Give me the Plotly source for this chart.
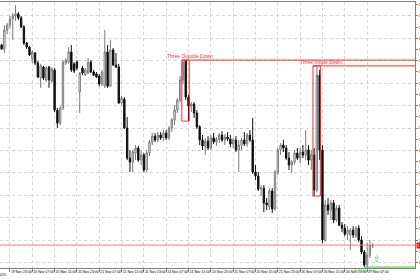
import plotly.graph_objects as go

# ---------------- data (H1 candles, bar index 0 = 19 Nov 20:00) ----------------
bar_index = list(range(134))

open_ = [
    1.41170, 1.41152, 1.41237, 1.41259, 1.41286, 1.41300, 1.41309, 1.41291, 1.41251, 1.41179,
    1.41161, 1.41110, 1.41135, 1.41090, 1.41023, 1.41072, 1.41014, 1.41072, 1.41010, 1.41059,
    1.40880, 1.40822, 1.40889, 1.41090, 1.41094, 1.41139, 1.41086, 1.41094, 1.40961, 1.41068,
    1.41036, 1.41045, 1.41094, 1.41050, 1.41041, 1.41032, 1.40996, 1.40987, 1.41139, 1.40987,
    1.41148, 1.41081, 1.41072, 1.40912, 1.40929, 1.40800, 1.40666, 1.40648, 1.40689, 1.40711,
    1.40657, 1.40680, 1.40613, 1.40689, 1.40738, 1.40764, 1.40747, 1.40769, 1.40756, 1.40778,
    1.40756, 1.40800, 1.40836, 1.40880, 1.40925, 1.41014, 1.41099, 1.40938, 1.40898, 1.40907,
    1.40867, 1.40805, 1.40747, 1.40720, 1.40742, 1.40711, 1.40756, 1.40738, 1.40751, 1.40769,
    1.40747, 1.40760, 1.40751, 1.40729, 1.40747, 1.40702, 1.40724, 1.40747, 1.40729, 1.40769,
    1.40747, 1.40604, 1.40586, 1.40528, 1.40532, 1.40466, 1.40448, 1.40519, 1.40439, 1.40604,
    1.40702, 1.40724, 1.40711, 1.40666, 1.40635, 1.40648, 1.40689, 1.40666, 1.40693, 1.40680,
    1.40702, 1.40657, 1.40680, 1.40524, 1.41036, 1.40702, 1.40301, 1.40457, 1.40434, 1.40466,
    1.40390, 1.40443, 1.40367, 1.40354, 1.40327, 1.40323, 1.40345, 1.40318, 1.40354, 1.40301,
    1.40247, 1.40189, 1.40234, 1.40274,
]
high = [
    1.41175, 1.41259, 1.41268, 1.41300, 1.41313, 1.41349, 1.41317, 1.41300, 1.41259, 1.41184,
    1.41166, 1.41148, 1.41139, 1.41099, 1.41086, 1.41077, 1.41077, 1.41077, 1.41072, 1.41068,
    1.40889, 1.40898, 1.41103, 1.41112, 1.41161, 1.41170, 1.41094, 1.41103, 1.41050, 1.41077,
    1.41068, 1.41112, 1.41103, 1.41059, 1.41050, 1.41041, 1.41059, 1.41237, 1.41170, 1.41193,
    1.41157, 1.41135, 1.41086, 1.40943, 1.40938, 1.40849, 1.40702, 1.40702, 1.40724, 1.40720,
    1.40702, 1.40689, 1.40702, 1.40747, 1.40778, 1.40778, 1.40782, 1.40782, 1.40791, 1.40791,
    1.40809, 1.40845, 1.40903, 1.40934, 1.41032, 1.41103, 1.41103, 1.40947, 1.40916, 1.40916,
    1.40880, 1.40813, 1.40769, 1.40756, 1.40764, 1.40769, 1.40778, 1.40760, 1.40778, 1.40787,
    1.40773, 1.40782, 1.40769, 1.40756, 1.40764, 1.40747, 1.40756, 1.40782, 1.40778, 1.40791,
    1.40845, 1.40635, 1.40604, 1.40546, 1.40546, 1.40488, 1.40532, 1.40532, 1.40613, 1.40711,
    1.40733, 1.40747, 1.40724, 1.40693, 1.40657, 1.40702, 1.40711, 1.40711, 1.40724, 1.40791,
    1.40724, 1.40702, 1.40711, 1.41077, 1.41059, 1.40724, 1.40479, 1.40488, 1.40479, 1.40479,
    1.40457, 1.40457, 1.40381, 1.40372, 1.40363, 1.40354, 1.40363, 1.40363, 1.40367, 1.40318,
    1.40256, 1.40287, 1.40301, 1.40287,
]
low = [
    1.41148, 1.41135, 1.41219, 1.41246, 1.41193, 1.41277, 1.41282, 1.41246, 1.41170, 1.41152,
    1.41121, 1.41090, 1.41081, 1.41023, 1.40979, 1.41014, 1.41005, 1.40979, 1.41001, 1.40871,
    1.40800, 1.40813, 1.40880, 1.41081, 1.41086, 1.41050, 1.41045, 1.41059, 1.40867, 1.41036,
    1.41032, 1.41041, 1.41045, 1.41032, 1.41023, 1.40987, 1.40987, 1.40979, 1.40979, 1.40983,
    1.41077, 1.41068, 1.40907, 1.40903, 1.40796, 1.40657, 1.40604, 1.40604, 1.40657, 1.40648,
    1.40635, 1.40604, 1.40604, 1.40675, 1.40724, 1.40738, 1.40738, 1.40747, 1.40742, 1.40747,
    1.40747, 1.40782, 1.40813, 1.40867, 1.40916, 1.40996, 1.40925, 1.40831, 1.40871, 1.40845,
    1.40796, 1.40724, 1.40702, 1.40680, 1.40702, 1.40702, 1.40729, 1.40720, 1.40733, 1.40738,
    1.40724, 1.40742, 1.40715, 1.40711, 1.40693, 1.40604, 1.40702, 1.40720, 1.40715, 1.40738,
    1.40595, 1.40568, 1.40519, 1.40497, 1.40425, 1.40434, 1.40434, 1.40421, 1.40430, 1.40590,
    1.40680, 1.40693, 1.40657, 1.40613, 1.40599, 1.40635, 1.40657, 1.40644, 1.40666, 1.40657,
    1.40635, 1.40613, 1.40497, 1.40515, 1.40657, 1.40287, 1.40292, 1.40412, 1.40390, 1.40376,
    1.40381, 1.40363, 1.40336, 1.40318, 1.40301, 1.40256, 1.40310, 1.40310, 1.40292, 1.40238,
    1.40180, 1.40180, 1.40220, 1.40265,
]
close = [
    1.41152, 1.41237, 1.41259, 1.41286, 1.41300, 1.41309, 1.41291, 1.41251, 1.41179, 1.41161,
    1.41126, 1.41139, 1.41090, 1.41028, 1.41077, 1.41023, 1.41068, 1.41014, 1.41063, 1.40880,
    1.40822, 1.40889, 1.41094, 1.41103, 1.41139, 1.41059, 1.41054, 1.41068, 1.41045, 1.41045,
    1.41059, 1.41094, 1.41050, 1.41036, 1.41028, 1.40996, 1.41050, 1.41139, 1.40987, 1.41148,
    1.41081, 1.41072, 1.40912, 1.40934, 1.40800, 1.40666, 1.40648, 1.40693, 1.40711, 1.40657,
    1.40680, 1.40613, 1.40689, 1.40738, 1.40764, 1.40747, 1.40769, 1.40756, 1.40778, 1.40756,
    1.40800, 1.40836, 1.40880, 1.40925, 1.41014, 1.41094, 1.40938, 1.40898, 1.40907, 1.40867,
    1.40805, 1.40747, 1.40720, 1.40742, 1.40711, 1.40756, 1.40738, 1.40751, 1.40769, 1.40747,
    1.40760, 1.40751, 1.40729, 1.40747, 1.40702, 1.40724, 1.40747, 1.40729, 1.40769, 1.40747,
    1.40604, 1.40586, 1.40528, 1.40532, 1.40466, 1.40457, 1.40519, 1.40439, 1.40604, 1.40702,
    1.40724, 1.40711, 1.40666, 1.40635, 1.40648, 1.40689, 1.40666, 1.40693, 1.40680, 1.40702,
    1.40657, 1.40680, 1.40524, 1.41036, 1.40702, 1.40301, 1.40457, 1.40434, 1.40466, 1.40390,
    1.40443, 1.40367, 1.40354, 1.40327, 1.40345, 1.40345, 1.40323, 1.40354, 1.40301, 1.40247,
    1.40189, 1.40234, 1.40278, 1.40278,
]

time_tick_index = [3, 11, 19, 27, 35, 43, 51, 59, 67, 75, 83, 91, 99, 107, 115, 123, 131]
time_tick_labels = [
    "19 Nov 23:00", "20 Nov 07:00", "20 Nov 15:00", "20 Nov 23:00", "21 Nov 07:00",
    "21 Nov 15:00", "21 Nov 23:00", "24 Nov 07:00", "24 Nov 15:00", "24 Nov 23:00",
    "25 Nov 07:00", "25 Nov 15:00", "25 Nov 23:00", "26 Nov 07:00", "26 Nov 15:00",
    "26 Nov 23:00", "27 Nov 07:00",
]
first_date_label = "19 Nov 2025"

pattern_names = ["Three Outside Down", "Three Inside Down"]
pattern_start = [65, 112]
pattern_end = [67, 114]

signal_label = "Bull Stick 1.0"
signal_bar = 130

# ---------------- view ----------------
X_MIN, X_MAX = -0.57, 148.17
Y_MIN, Y_MAX = 1.40176, 1.41362
FONT = "Liberation Sans"
RED = "#ff2a2a"
GREEN = "#33cc33"
GRID = "#d4d4d4"

fig = go.Figure()
fig.add_trace(go.Candlestick(
    x=bar_index, open=open_, high=high, low=low, close=close,
    increasing=dict(line=dict(color="#7a7a7a", width=1), fillcolor="#ffffff"),
    decreasing=dict(line=dict(color="#111111", width=1), fillcolor="#000000"),
    whiskerwidth=0, hoverinfo="skip", showlegend=False,
))
# helper trace so the grid axis exists
fig.add_trace(go.Scatter(x=[None], y=[None], yaxis="y2", showlegend=False, hoverinfo="skip"))

shapes = []
annotations = []
for name, s, e in zip(pattern_names, pattern_start, pattern_end):
    hi = max(high[s:e + 1])
    lo = min(low[s:e + 1])
    shapes.append(dict(type="rect", xref="x", yref="y", x0=s - 0.4, x1=e + 0.25,
                       y0=lo, y1=hi, line=dict(color=RED, width=1), fillcolor="rgba(0,0,0,0)"))
    shapes.append(dict(type="line", xref="x", yref="y", x0=s - 0.4, x1=X_MAX,
                       y0=hi, y1=hi, line=dict(color=RED, width=1)))
    annotations.append(dict(x=s + 2.5, y=hi, xref="x", yref="y", text=name, showarrow=False,
                            xanchor="center", yanchor="bottom", yshift=-1,
                            font=dict(size=5, color=RED, family=FONT)))

# current price line
last_close = close[-1]
shapes.append(dict(type="line", xref="paper", yref="y", x0=0, x1=1, y0=last_close, y1=last_close,
                   line=dict(color="#e88080", width=1)))
annotations.append(dict(x=1, y=last_close, xref="paper", yref="y", text=f"{last_close:.5f}",
                        showarrow=False, xanchor="left", yanchor="middle", xshift=1,
                        bgcolor="#e01010", font=dict(size=4, color="white", family=FONT),
                        borderpad=0))

# signal low line (green) with label and up arrow
sig_low = low[signal_bar]
shapes.append(dict(type="line", xref="x", yref="y", x0=signal_bar, x1=X_MAX, y0=sig_low, y1=sig_low,
                   line=dict(color=GREEN, width=1)))
annotations.append(dict(x=signal_bar, y=sig_low, xref="x", yref="y", text=signal_label,
                        showarrow=False, xanchor="center", yanchor="top",
                        font=dict(size=3.5, color=GREEN, family=FONT)))
annotations.append(dict(x=signal_bar + 4.5, y=sig_low, xref="x", yref="y", text="\u21e7",
                        showarrow=False, xanchor="center", yanchor="bottom", yshift=1,
                        font=dict(size=9, color=GREEN, family="DejaVu Sans")))

# truncated first date label at left
annotations.append(dict(x=X_MIN, y=0, xref="x", yref="paper", text=first_date_label, showarrow=False,
                        xanchor="right", yanchor="top", xshift=8, yshift=-3,
                        font=dict(size=3.5, color="#000000", family=FONT)))

fig.update_layout(
    width=420, height=280,
    margin=dict(l=0, r=5, t=2, b=12, autoexpand=False),
    paper_bgcolor="white", plot_bgcolor="white",
    showlegend=False,
    shapes=shapes, annotations=annotations,
    xaxis=dict(range=[X_MIN, X_MAX], tickmode="array", tickvals=time_tick_index, ticktext=time_tick_labels,
               ticklabelposition="outside right", tickangle=0, automargin=False,
               showgrid=True, gridcolor=GRID, griddash="dot", gridwidth=1,
               ticks="outside", ticklen=3, tickcolor="#808080", showline=True, linecolor="#808080",
               mirror=True, zeroline=False, rangeslider=dict(visible=False),
               tickfont=dict(size=3.5, color="#000000", family=FONT)),
    yaxis=dict(range=[Y_MIN, Y_MAX], side="right", tick0=1.4, dtick=0.0005, tickformat=".5f",
               automargin=False, showgrid=False, zeroline=False, ticks="outside", ticklen=2,
               tickcolor="#808080", showline=True, linecolor="#808080",
               tickfont=dict(size=4, color="#000000", family=FONT)),
    yaxis2=dict(range=[Y_MIN, Y_MAX], overlaying="y", side="right", tick0=1.4, dtick=0.001,
                automargin=False, showgrid=True, gridcolor=GRID, griddash="dot", gridwidth=1,
                showticklabels=False, ticks="", showline=False, zeroline=False),
)

fig.write_html("out.html")
